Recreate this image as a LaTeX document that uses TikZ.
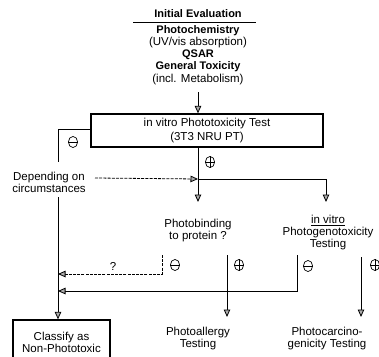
\documentclass[tikz,border=0pt]{standalone}
\usepackage{fontspec}
\setmainfont{Liberation Sans}
\usetikzlibrary{arrows.meta}
\begin{document}
\begin{tikzpicture}[x=1pt,y=-1pt,line width=0.8pt,
  txt/.style={font=\fontsize{11.5}{12}\selectfont,align=center,inner sep=0pt,text height=8.5pt,text depth=2.5pt},
  btxt/.style={font=\fontsize{11}{12}\selectfont\bfseries,align=center,inner sep=0pt,text height=8.5pt,text depth=2.5pt},
  block/.style={font=\fontsize{11.5}{12}\selectfont,align=center,inner sep=0pt},
  boxed/.style={draw,line width=1.3pt,inner sep=0pt},
  flow/.style={-{Triangle[width=6.5pt,length=7.5pt,fill=gray!65]}},
  hint/.style={flow,dash pattern=on 3pt off 1.2pt},
  negsign/.pic={\draw[line width=0.7pt] (0,0) ellipse[x radius=4.6pt,y radius=5.6pt];
                \draw[line width=0.7pt] (-4.6,0) -- (4.6,0);},
  possign/.pic={\draw[line width=0.7pt] (0,0) ellipse[x radius=4.6pt,y radius=5.6pt];
                \draw[line width=0.7pt] (-4.6,0) -- (4.6,0) (0,-5.6) -- (0,5.6);}
]
\useasboundingbox (0,0) rectangle (379,356);
\clip (0,0) rectangle (379,356);

% initial evaluation block
\node[btxt] (init) at (198,14) {Initial Evaluation};
\coordinate (ulL) at (133,22);
\coordinate (ulR) at (256,22);
\draw[line width=0.6pt] (ulL) -- (ulR);
\node[btxt] (chem) at (198,30) {Photochemistry};
\node[txt] (uv) at (198,42) {(UV/vis absorption)};
\node[btxt] (qsar) at (198,54) {QSAR};
\node[btxt] (gentox) at (198,66) {General Toxicity};
\node[txt] (metab) at (198,79) {(incl. Metabolism)};

% phototoxicity test
\node[boxed,minimum width=232pt,minimum height=33pt,
      font=\fontsize{11.5}{14}\selectfont,align=center] (test) at (207,130.5)
      {in vitro Phototoxicity Test\\(3T3 NRU PT)};
\coordinate (inTop) at (198,92);
\draw[flow] (inTop) -- (inTop |- test.north);

% negative branch to the left
\coordinate (negL) at (58,129);
\coordinate (negEnd) at (58,162);
\draw (test.west |- negL) -- (negL) -- (negEnd);
\pic at (73,142) {negsign};
\node[txt] (dep) at (49,177) {Depending on};
\node[txt] (circ) at (49,189) {circumstances};
\coordinate (leftCol) at (58,197);

% classify box
\node[boxed,minimum width=97pt,minimum height=44pt,block] (clsf) at (61.5,342)
      {Classify as\\Non-Phototoxic};
\draw[flow] (leftCol) -- (leftCol |- clsf.north);

% positive branch
\coordinate (trunk) at (198,179);
\coordinate (geneTop) at (326,179);
\node[block] (bind) at (198,231) {Photobinding\\to protein ?};
\node[block] (geno) at (328,233) {\underline{in vitro}\\Photogenotoxicity\\Testing};
\draw[flow] (test.south -| trunk) -- (trunk |- 0,202);
\pic at (210,162) {possign};
\draw[flow] (trunk) -- (geneTop) -- (geneTop |- 0,202);
\coordinate (depEnd) at (95,178);
\draw[hint] (depEnd) -- (trunk);

% photobinding outcomes
\coordinate (bindNeg) at (162,255);
\coordinate (bindNegTurn) at (162,274);
\draw[hint] (bindNeg) -- (bindNegTurn) -- (bindNegTurn -| leftCol);
\node[txt] (qmark) at (113,267) {?};
\pic at (175,265) {negsign};

\node[block] (allergy) at (198,339) {Photoallergy\\Testing};
\coordinate (bindPos) at (227,255);
\draw[flow] (bindPos) -- (bindPos |- 0,317);
\pic at (239,265) {possign};

% photogenotoxicity outcomes
\coordinate (genoNeg) at (297,255);
\coordinate (genoNegTurn) at (297,291);
\draw[flow] (genoNeg) -- (genoNegTurn) -- (genoNegTurn -| leftCol);
\pic at (308,266) {negsign};

\node[block] (carc) at (327,339) {Photocarcino-\\genicity Testing};
\coordinate (genoPos) at (361,257);
\draw[flow] (genoPos) -- (genoPos |- 0,317);
\pic at (375,265) {possign};
\end{tikzpicture}
\end{document}
